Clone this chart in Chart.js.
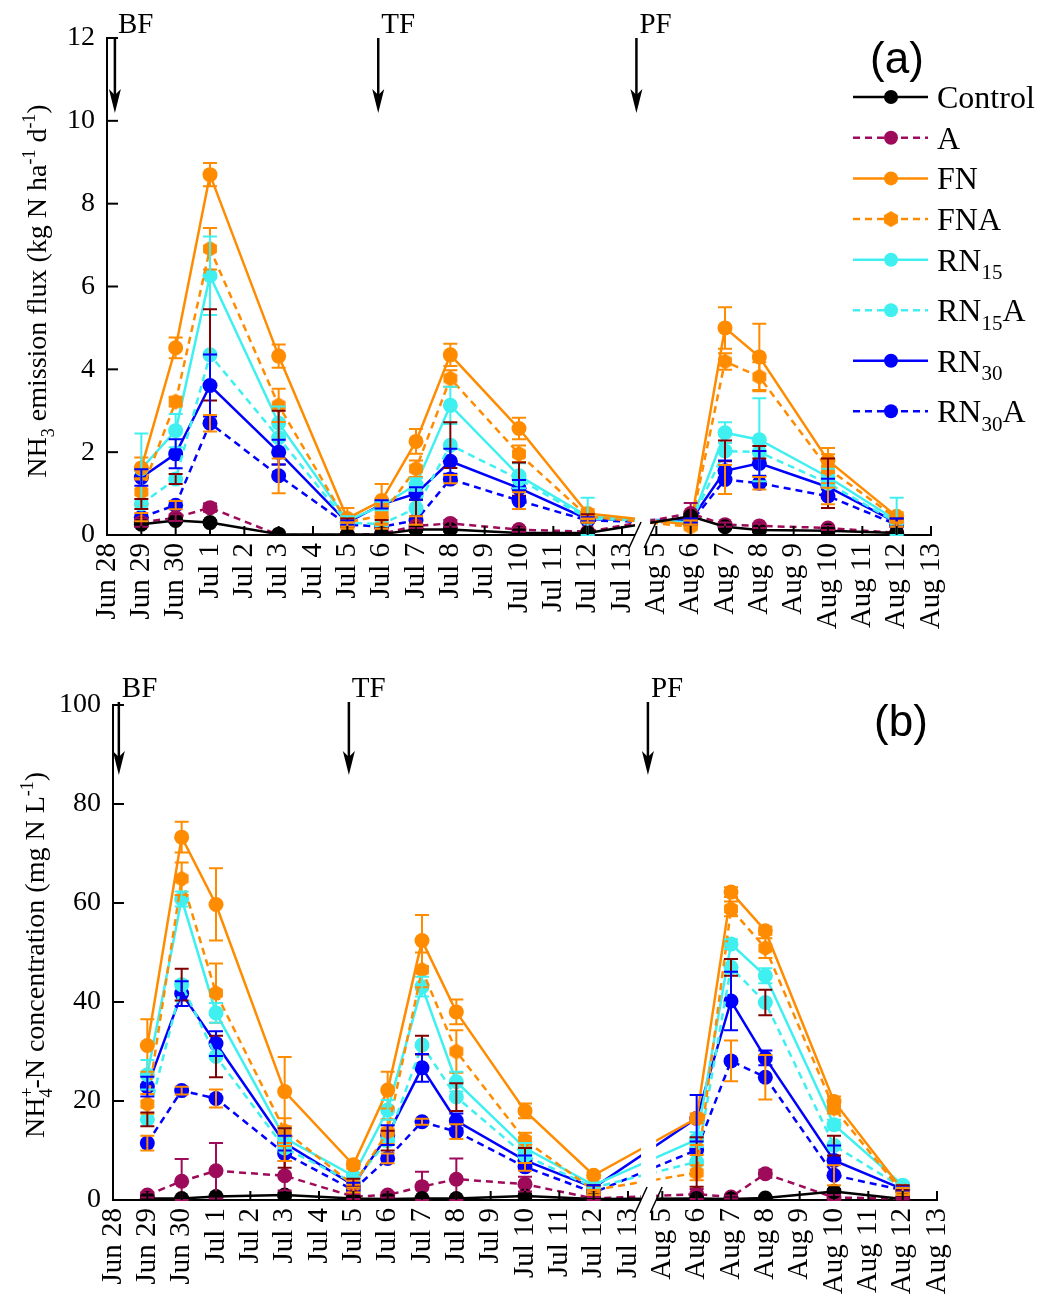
<!DOCTYPE html>
<html>
<head>
<meta charset="utf-8">
<script src="https://cdn.jsdelivr.net/npm/chart.js@4.4.1/dist/chart.umd.min.js"></script>
<style>
  body { margin: 0; background: #fff; }
  canvas { display: block; }
</style>
</head>
<body>
<canvas id="fluxChart" width="1053" height="650"></canvas>
<canvas id="concChart" width="1053" height="645"></canvas>
<script>
// x axis: every day of both periods, with a break between Jul 13 and Aug 5
const days = ["Jun 28", "Jun 29", "Jun 30", "Jul 1", "Jul 2", "Jul 3", "Jul 4", "Jul 5",
  "Jul 6", "Jul 7", "Jul 8", "Jul 9", "Jul 10", "Jul 11", "Jul 12", "Jul 13",
  "Aug 5", "Aug 6", "Aug 7", "Aug 8", "Aug 9", "Aug 10", "Aug 11", "Aug 12", "Aug 13"];

// days on which samples were taken
const sampleDays = ["Jun 29", "Jun 30", "Jul 1", "Jul 3", "Jul 5", "Jul 6", "Jul 7", "Jul 8",
  "Jul 10", "Jul 12", "Aug 6", "Aug 7", "Aug 8", "Aug 10", "Aug 12"];

const treatments = ["Control", "A", "FN", "FNA", "RN15", "RN15A", "RN30", "RN30A"];

// (a) NH3 emission flux, kg N ha-1 d-1
const fluxControl = [0.26, 0.35, 0.30, 0.02, 0.01, 0.02, 0.13, 0.13, 0.05, 0.05, 0.45, 0.20, 0.12, 0.10, 0.05];
const fluxA       = [0.30, 0.42, 0.66, 0.00, 0.00, 0.03, 0.22, 0.28, 0.13, 0.08, 0.52, 0.25, 0.22, 0.17, 0.05];
const fluxFN      = [1.62, 4.52, 8.70, 4.32, 0.40, 0.83, 2.26, 4.35, 2.57, 0.52, 0.25, 5.00, 4.30, 1.80, 0.45];
const fluxFNA     = [1.04, 3.22, 6.91, 3.13, 0.30, 0.48, 1.60, 3.78, 1.96, 0.45, 0.20, 4.19, 3.82, 1.60, 0.40];
const fluxRN15    = [1.60, 2.52, 6.26, 2.70, 0.35, 0.70, 1.22, 3.13, 1.43, 0.45, 0.30, 2.47, 2.30, 1.40, 0.35];
const fluxRN15A   = [0.75, 1.35, 4.35, 2.35, 0.30, 0.26, 0.65, 2.17, 1.35, 0.40, 0.30, 2.03, 2.00, 1.25, 0.30];
const fluxRN30    = [1.39, 1.96, 3.61, 2.00, 0.30, 0.74, 1.00, 1.78, 1.13, 0.38, 0.35, 1.55, 1.73, 1.16, 0.30];
const fluxRN30A   = [0.43, 0.72, 2.70, 1.43, 0.25, 0.20, 0.35, 1.35, 0.83, 0.35, 0.30, 1.34, 1.25, 0.94, 0.25];

// (a) standard errors
const fluxControlErr = [0.05, 0.05, 0.05, 0, 0, 0, 0.05, 0.05, 0, 0, 0.05, 0.05, 0.05, 0.05, 0];
const fluxAErr       = [0.10, 0.08, 0.10, 0, 0, 0, 0.05, 0.08, 0.05, 0, 0.25, 0.05, 0.05, 0.05, 0];
const fluxFNErr      = [0.25, 0.25, 0.28, 0.28, 0.25, 0.40, 0.30, 0.27, 0.26, 0.10, 0.05, 0.50, 0.80, 0.30, 0.10];
const fluxFNAErr     = [0.30, 0.12, 0.50, 0.40, 0.10, 0.20, 0.20, 0.20, 0.20, 0.10, 0.05, 0.20, 0.35, 0.35, 0.10];
const fluxRN15Err    = [0.85, 0.40, 0.95, 0.40, 0.10, 0.10, 0.15, 0.45, 0.30, 0.45, 0.05, 0.25, 1.00, 0.20, 0.55];
const fluxRN15AErr   = [0.12, 0.12, 1.10, 0.65, 0.10, 0.10, 0.20, 0.55, 0.40, 0.10, 0.05, 0.25, 0.15, 0.60, 0.10];
const fluxRN30Err    = [0.20, 0.35, 0.75, 0.30, 0.05, 0.10, 0.15, 0.30, 0.20, 0.05, 0.05, 0.25, 0.30, 0.20, 0.10];
const fluxRN30AErr   = [0.10, 0.10, 0.20, 0.42, 0.05, 0.05, 0.10, 0.10, 0.20, 0.05, 0.05, 0.35, 0.15, 0.20, 0.05];

// (b) NH4+-N concentration in floodwater, mg N L-1
const concControl = [0.3, 0.3, 0.7, 1.0, 0.3, 0.2, 0.3, 0.3, 0.8, 0.2, 0.3, 0.2, 0.4, 1.7, 0.2];
const concA       = [1.0, 3.8, 5.9, 4.9, 0.7, 1.0, 2.7, 4.2, 3.2, 0.3, 1.2, 0.6, 5.3, 0.5, 0.3];
const concFN      = [31.2, 73.3, 59.7, 21.9, 7.1, 22.2, 52.4, 38.0, 18.0, 5.0, 16.5, 62.2, 54.4, 19.9, 2.0];
const concFNA     = [19.4, 64.9, 41.8, 14.0, 3.0, 13.8, 46.5, 30.0, 12.1, 2.0, 5.5, 58.8, 50.9, 18.5, 1.5];
const concRN15    = [25.3, 60.8, 37.8, 12.5, 4.9, 18.2, 43.1, 23.9, 10.5, 3.0, 12.2, 51.7, 45.3, 15.2, 3.0];
const concRN15A   = [16.3, 43.5, 29.0, 10.5, 3.5, 12.0, 31.3, 20.8, 9.0, 2.5, 7.7, 47.0, 39.9, 11.0, 2.5];
const concRN30    = [22.9, 41.7, 31.6, 11.5, 3.0, 13.1, 26.7, 16.0, 8.0, 2.5, 16.5, 40.2, 28.7, 8.0, 2.2];
const concRN30A   = [11.5, 22.1, 20.5, 9.4, 2.0, 8.4, 15.8, 13.8, 6.7, 1.5, 10.1, 28.1, 24.8, 5.0, 2.0];

// (b) standard errors
const concControlErr = [0.2, 0.2, 0.3, 0.5, 0.2, 0.2, 0.2, 0.2, 0.3, 0.1, 0.2, 0.2, 0.2, 0.5, 0.1];
const concAErr       = [0.5, 4.5, 5.6, 3.0, 0.5, 0.5, 3.0, 4.2, 1.5, 0.3, 1.0, 0.3, 0.8, 0.5, 0.2];
const concFNErr      = [5.3, 3.1, 7.3, 7.0, 0.8, 3.7, 5.2, 2.5, 1.5, 0.6, 1.0, 1.0, 0.8, 1.0, 0.5];
const concFNAErr     = [2.0, 3.3, 6.0, 2.5, 0.5, 2.5, 3.5, 4.3, 1.5, 0.5, 1.5, 1.5, 2.0, 1.0, 0.5];
const concRN15Err    = [3.0, 1.5, 2.0, 2.0, 0.5, 2.0, 2.0, 2.0, 1.0, 0.5, 1.5, 1.0, 1.5, 1.0, 0.5];
const concRN15AErr   = [1.4, 3.2, 4.2, 4.0, 0.8, 2.0, 1.9, 2.8, 1.5, 0.5, 5.0, 1.7, 2.6, 2.0, 0.5];
const concRN30Err    = [2.0, 2.5, 2.5, 1.5, 0.5, 2.0, 2.8, 1.5, 1.0, 0.5, 4.7, 5.9, 1.5, 3.0, 0.5];
const concRN30AErr   = [1.5, 0.8, 1.8, 1.5, 0.5, 1.0, 0.6, 1.5, 0.8, 0.5, 1.0, 4.1, 4.5, 2.0, 0.5];

// fertilization events: basal (BF), tillering (TF) and panicle (PF), as x positions in day index
const fluxEvents = [["BF", 0.23], ["TF", 7.9], ["PF", 15.42]];
const concEvents = [["BF", 0.17], ["TF", 6.87], ["PF", 15.58]];

const lineColors = ["#000000", "#9e0b5a", "#ff8c00", "#ff8c00", "#40f0f0", "#40f0f0", "#0000ff", "#0000ff"];
const errColors = ["#000000", "#9e0b5a", "#ff8c00", "#ff8c00", "#40f0f0", "#800000", "#0000ff", "#ff8c00"];
const dashed = [false, true, false, true, false, true, false, true];

const SERIF = '"Liberation Serif", "Times New Roman", serif';

function hexagon(r, color) {
  const c = document.createElement("canvas");
  c.width = c.height = Math.ceil(2 * r + 2);
  const g = c.getContext("2d");
  g.fillStyle = color;
  g.beginPath();
  for (let k = 0; k < 6; k++) {
    const ang = -Math.PI / 2 + k * Math.PI / 3;
    const px = c.width / 2 + r * Math.cos(ang), py = c.height / 2 + r * Math.sin(ang);
    k ? g.lineTo(px, py) : g.moveTo(px, py);
  }
  g.closePath();
  g.fill();
  return c;
}
const hexMarker = hexagon(8, "#ff8c00");

// draws a row of text pieces, some as subscripts or superscripts
function richText(ctx, parts, x, y, size, align) {
  const small = Math.round(size * 0.66);
  const widths = parts.map(p => {
    ctx.font = (p.sub || p.sup ? small : size) + "px " + SERIF;
    return ctx.measureText(p.t).width;
  });
  let total = 0;
  parts.forEach((p, i) => { if (!p.over) total += widths[i]; });
  let cx = align === "center" ? x - total / 2 : x;
  let last = cx;
  parts.forEach((p, i) => {
    ctx.font = (p.sub || p.sup ? small : size) + "px " + SERIF;
    const dy = p.sub ? size * 0.27 : p.sup ? -size * 0.38 : 0;
    if (p.over) {
      ctx.fillText(p.t, last, y + dy);
    } else {
      last = cx;
      ctx.fillText(p.t, cx, y + dy);
      cx += widths[i];
    }
  });
  return cx;
}

const errorBars = {
  id: "errorBars",
  afterDatasetsDraw(chart) {
    const ctx = chart.ctx, ys = chart.scales.y;
    ctx.save();
    ctx.lineWidth = 2;
    chart.data.datasets.forEach((ds, i) => {
      const meta = chart.getDatasetMeta(i);
      ctx.strokeStyle = ds.errColor;
      meta.data.forEach((pt, j) => {
        const e = ds.errors[j];
        if (!e) return;
        const v = ds.data[j].y;
        const top = ys.getPixelForValue(v + e);
        const bot = ys.getPixelForValue(Math.max(0, v - e));
        ctx.beginPath();
        ctx.moveTo(pt.x, top); ctx.lineTo(pt.x, bot);
        ctx.moveTo(pt.x - 7, top); ctx.lineTo(pt.x + 7, top);
        ctx.moveTo(pt.x - 7, bot); ctx.lineTo(pt.x + 7, bot);
        ctx.stroke();
      });
    });
    ctx.restore();
  }
};

const decor = {
  id: "decor",
  afterDatasetsDraw(chart, args, opts) {
    const { ctx, chartArea: a } = chart;
    const xs = chart.scales.x, ys = chart.scales.y;
    const seg = (x1, y1, x2, y2) => { ctx.beginPath(); ctx.moveTo(x1, y1); ctx.lineTo(x2, y2); ctx.stroke(); };
    ctx.save();
    ctx.strokeStyle = "#000";
    ctx.fillStyle = "#000";

    // axis break between the two periods
    const g0 = xs.getPixelForValue(15.38), g1 = xs.getPixelForValue(15.82);
    ctx.fillStyle = "#fff";
    ctx.fillRect(g0, a.top, g1 - g0, a.bottom - a.top + 4);
    ctx.fillStyle = "#000";
    ctx.lineWidth = 1.5;
    [g0, g1].forEach(px => seg(px - 6, a.bottom + 13, px + 6, a.bottom - 13));

    // inward tick marks
    ctx.lineWidth = 2;
    xs.ticks.forEach((t, i) => {
      const px = xs.getPixelForTick(i);
      seg(px, a.bottom, px, a.bottom - 9);
    });
    ys.ticks.forEach((t, i) => {
      const py = ys.getPixelForTick(i);
      seg(a.left, py, a.left + 11, py);
    });

    // fertilization arrows
    opts.events.forEach(([name, at]) => {
      const px = xs.getPixelForValue(at);
      const tip = a.top + opts.arrowTip;
      ctx.lineWidth = 2.5;
      seg(px, a.top + opts.arrowTop, px, tip - 12);
      ctx.beginPath();
      ctx.moveTo(px, tip);
      ctx.lineTo(px - 6, tip - 24);
      ctx.lineTo(px, tip - 18);
      ctx.lineTo(px + 6, tip - 24);
      ctx.closePath();
      ctx.fill();
      ctx.font = "29px " + SERIF;
      ctx.textAlign = "left";
      ctx.textBaseline = "alphabetic";
      ctx.fillText(name, px + 3, a.top + opts.labelDy);
    });

    // panel letter
    ctx.font = '44px "Liberation Sans", Arial, sans-serif';
    ctx.textAlign = "center";
    ctx.fillText(opts.panel, opts.panelX, opts.panelY);

    // y axis title, rotated
    ctx.save();
    ctx.translate(opts.titleX, opts.titleY);
    ctx.rotate(-Math.PI / 2);
    ctx.textAlign = "left";
    richText(ctx, opts.title, 0, 0, 28, "center");
    ctx.restore();

    // legend
    if (opts.legend) {
      let ly = 97;
      chart.data.datasets.forEach((ds, i) => {
        ctx.strokeStyle = ds.borderColor;
        ctx.lineWidth = 2.5;
        ctx.setLineDash(dashed[i] ? [7, 5] : []);
        seg(853, ly, 928, ly);
        ctx.setLineDash([]);
        if (ds.pointStyle === hexMarker) {
          ctx.drawImage(hexMarker, 891 - hexMarker.width / 2, ly - hexMarker.height / 2);
        } else {
          ctx.fillStyle = ds.borderColor;
          ctx.beginPath(); ctx.arc(891, ly, 7, 0, Math.PI * 2); ctx.fill();
        }
        ctx.fillStyle = "#000";
        ctx.textAlign = "left";
        const pieces = ds.label.split(/(\d+)/).filter(s => s).map(s => /\d/.test(s) ? { t: s, sub: true } : { t: s });
        richText(ctx, pieces, 937, ly + 11, 32, "left");
        ly += pieces.length > 1 ? 50.5 : 40.7;
      });
    }
    ctx.restore();
  }
};

function makeChart(canvas, series, errors, yMax, step, area, decorOpts) {
  return new Chart(canvas, {
    type: "line",
    data: {
      labels: days,
      datasets: treatments.map((name, i) => ({
        label: name,
        data: sampleDays.map((d, j) => ({ x: d, y: series[i][j] })),
        errors: errors[i],
        errColor: errColors[i],
        borderColor: lineColors[i],
        backgroundColor: lineColors[i],
        borderWidth: 2.5,
        borderDash: dashed[i] ? [7, 5] : [],
        pointStyle: name === "FNA" ? hexMarker : "circle",
        pointRadius: 7.5,
        pointBorderWidth: 0,
        tension: 0
      }))
    },
    options: {
      responsive: false,
      animation: false,
      layout: { padding: { left: 0, right: area.right, top: area.top, bottom: 0 } },
      plugins: { legend: { display: false }, tooltip: { enabled: false }, decor: decorOpts },
      scales: {
        x: {
          type: "category",
          offset: false,
          grid: { display: false, drawTicks: false },
          border: { color: "#000", width: 2 },
          ticks: {
            autoSkip: false, minRotation: 90, maxRotation: 90, padding: 8, color: "#000",
            font: { family: SERIF, size: 29 }
          },
          afterFit: s => { s.height = area.xHeight; }
        },
        y: {
          min: 0, max: yMax,
          grid: { display: false, drawTicks: false },
          border: { color: "#000", width: 2 },
          ticks: { stepSize: step, padding: 12, color: "#000", font: { family: SERIF, size: 28 } },
          afterFit: s => { s.width = area.left; }
        }
      }
    },
    plugins: [errorBars, decor]
  });
}

const fluxChart = makeChart(
  document.getElementById("fluxChart"),
  [fluxControl, fluxA, fluxFN, fluxFNA, fluxRN15, fluxRN15A, fluxRN30, fluxRN30A],
  [fluxControlErr, fluxAErr, fluxFNErr, fluxFNAErr, fluxRN15Err, fluxRN15AErr, fluxRN30Err, fluxRN30AErr],
  12, 2,
  { left: 107, right: 122, top: 38, xHeight: 115 },
  {
    events: fluxEvents, arrowTop: 0, arrowTip: 75, labelDy: -5,
    panel: "(a)", panelX: 897, panelY: 73,
    titleX: 46, titleY: 291,
    title: [{ t: "NH" }, { t: "3", sub: true }, { t: " emission flux (kg N ha" }, { t: "-1", sup: true },
      { t: " d" }, { t: "-1", sup: true }, { t: ")" }],
    legend: true
  }
);

const concChart = makeChart(
  document.getElementById("concChart"),
  [concControl, concA, concFN, concFNA, concRN15, concRN15A, concRN30, concRN30A],
  [concControlErr, concAErr, concFNErr, concFNAErr, concRN15Err, concRN15AErr, concRN30Err, concRN30AErr],
  100, 20,
  { left: 113, right: 116, top: 55, xHeight: 95 },
  {
    events: concEvents, arrowTop: -3, arrowTip: 70, labelDy: -8,
    panel: "(b)", panelX: 901, panelY: 86,
    titleX: 44, titleY: 305,
    title: [{ t: "NH" }, { t: "4", sub: true }, { t: "+", sup: true, over: true }, { t: "-N concentration (mg N L" },
      { t: "-1", sup: true }, { t: ")" }],
    legend: false
  }
);
</script>
</body>
</html>
